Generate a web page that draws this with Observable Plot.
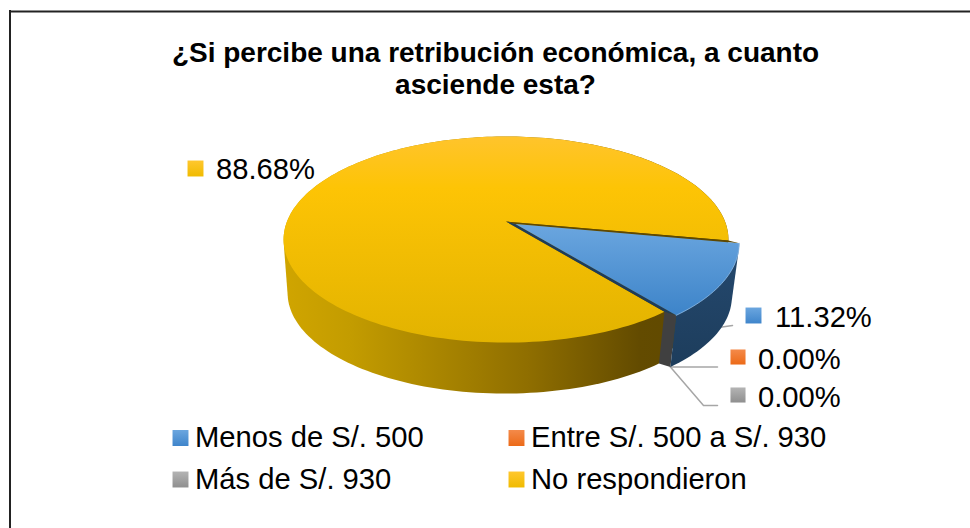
<!DOCTYPE html>
<html><head><meta charset="utf-8">
<script src="https://cdn.jsdelivr.net/npm/d3@7"></script>
<script src="https://cdn.jsdelivr.net/npm/@observablehq/plot@0.6"></script>
<style>html,body{margin:0;padding:0;background:#fff}svg{display:block}</style>
</head><body><div id="chart"></div>
<script>
const titleText = "¿Si percibe una retribución económica, a cuanto\nasciende esta?";
const categories = ["Menos de S/. 500", "Entre S/. 500 a S/. 930", "Más de S/. 930", "No respondieron"];
const shares = [11.32, 0, 0, 88.68];
const shareLabels = ["11.32%", "0.00%", "0.00%", "88.68%"];
const gradients = ["gBlue", "gOrange", "gGray", "gYellow"];

const W = 970, H = 528;
const startDeg = 100.6, explode = 0.05;
const cx = 505.5, cyTop = 221, rx = 219, ry = 99.9, k = 0.175;
const cxBot = 504, cyBot = 275, botScale = 0.975;
const rad = Math.PI / 180;

const arcs = d3.pie().sort(null).startAngle(startDeg * rad).endAngle((startDeg + 360) * rad)(shares);

function project(a, r, off, bottom) {
  const u = r * Math.sin(a) + off[0], v = r * Math.cos(a) + off[1];
  const w = 1 + k * v, s = bottom ? botScale : 1;
  return {x: (bottom ? cxBot : cx) + s * rx * u / w, y: (bottom ? cyBot : cyTop) - s * ry * v / w};
}
function arcPts(a0, a1, off, bottom) {
  const n = Math.max(2, Math.ceil(Math.abs(a1 - a0) / (rad * 1.5)));
  return d3.range(n + 1).map(i => project(a0 + (a1 - a0) * i / n, 1, off, bottom));
}
const blue = arcs[0], yellow = arcs[3];
const mid = (blue.startAngle + blue.endAngle) / 2;
const offBlue = [explode * Math.sin(mid), explode * Math.cos(mid)], off0 = [0, 0];

const face = (d, off) => [project(0, 0, off, false), ...arcPts(d.startAngle, d.endAngle, off, false)];
const hull = pts => d3.polygonHull(pts.map(p => [p.x, p.y])).map(([x, y]) => ({x, y}));
const wall = (d, off) => hull([...arcPts(d.startAngle, d.endAngle, off, false), ...arcPts(d.startAngle, d.endAngle, off, true)]);

const yellowTop = face(yellow, off0), blueTop = face(blue, offBlue);
const yellowWall = wall(yellow, off0), blueWall = wall(blue, offBlue);
const yS = yellow.startAngle, bS = blue.startAngle, bE = blue.endAngle;

const gapUpper = [project(0,0,off0,false), project(bS,1,off0,false), project(bS,1,offBlue,false), project(0,0,offBlue,false)];
const gapLower = [project(0,0,off0,false), project(bE,1,off0,false), project(bE,1,offBlue,false), project(0,0,offBlue,false)];
const greyCut = [project(bE,1,off0,false), project(bE,1,offBlue,false), project(bE,1,offBlue,true), project(bE,1,off0,true)];

const shadowY = arcPts(yellow.startAngle, yellow.endAngle, off0, true).map(p => ({x: p.x - 1, y: p.y + 2}));
const shadowB = arcPts(blue.startAngle, blue.endAngle, offBlue, true).map(p => ({x: p.x + 2, y: p.y + 2}));

const pieAnchor = project(bE, 1, offBlue, true);
const leaders = [
  [{x: 718, y: 327}, {x: 732, y: 325}],
  [pieAnchor, {x: 717, y: 366.5}],
  [pieAnchor, {x: 703, y: 405}, {x: 717, y: 405}]
];

const labelSpots = [
  {t: shareLabels[0], g: gradients[0], sx: 753, tx: 774.5, sy: 315, y: 317, r: 9},
  {t: shareLabels[1], g: gradients[1], sx: 737.5, tx: 757.5, sy: 356.5, y: 359, r: 8.5},
  {t: shareLabels[2], g: gradients[2], sx: 737.5, tx: 757.5, sy: 394.5, y: 397, r: 8.5},
  {t: shareLabels[3], g: gradients[3], sx: 195, tx: 215.5, sy: 168, y: 169.5, r: 9}
];
const legendSpots = [
  {t: categories[0], g: gradients[0], sx: 180, tx: 194.5, sy: 437.5, y: 437},
  {t: categories[1], g: gradients[1], sx: 516, tx: 530.5, sy: 437.5, y: 437},
  {t: categories[2], g: gradients[2], sx: 180, tx: 194.5, sy: 479, y: 479},
  {t: categories[3], g: gradients[3], sx: 516, tx: 530.5, sy: 479, y: 479}
];
const font = {fontFamily: "Liberation Sans, Arial, sans-serif", fill: "#000"};
const poly = (pts, fill) => Plot.line(pts, {x: "x", y: "y", fill, stroke: "none", curve: "linear-closed"});
const grad = (id, x2, y2, stops) =>
  `<linearGradient id="${id}" x1="0" y1="0" x2="${x2}" y2="${y2}">` +
  stops.map(([o, c]) => `<stop offset="${o}" stop-color="${c}"/>`).join("") + `</linearGradient>`;

const defs = () => {
  const g = document.createElementNS("http://www.w3.org/2000/svg", "g");
  g.innerHTML = `<defs>
    ${grad("gBlue", 0, 1, [[0, "#6ba6df"], [1, "#3f85cb"]])}
    ${grad("gOrange", 0, 1, [[0, "#f48a4a"], [1, "#ec6a18"]])}
    ${grad("gGray", 0, 1, [[0, "#b4b4b4"], [1, "#8f8f8f"]])}
    ${grad("gYellow", 0, 1, [[0, "#ffc72e"], [1, "#f0bb00"]])}
    ${grad("gTopY", 0, 1, [[0, "#ffc42c"], [0.25, "#fdc405"], [1, "#e2b300"]])}
    ${grad("gTopB", 0, 1, [[0, "#6ba6df"], [1, "#3d84c9"]])}
    ${grad("gWallY", 1, 0, [[0, "#d0a500"], [0.15, "#c39c00"], [0.55, "#8f6e00"], [0.8, "#634b00"], [1, "#5e4800"]])}
    ${grad("gWallB", 0, 1, [[0, "#25496f"], [1, "#1d3d5c"]])}
    <filter id="blur" x="-10%" y="-10%" width="120%" height="120%"><feGaussianBlur stdDeviation="1.8"/></filter>
  </defs>`;
  return g;
};

const plot = Plot.plot({
  width: W, height: H, margin: 0,
  x: {domain: [0, W], range: [0, W], axis: null},
  y: {domain: [0, H], range: [0, H], axis: null},
  marks: [
    defs,
    Plot.ruleY([11], {x1: 9, x2: W, stroke: "#222", strokeWidth: 2}),
    Plot.ruleX([9.5], {y1: 10, y2: H, stroke: "#222", strokeWidth: 2}),
    Plot.line(leaders[0], {x: "x", y: "y", stroke: "#a6a6a6", strokeWidth: 1.5}),
    Plot.line(leaders[1], {x: "x", y: "y", stroke: "#a6a6a6", strokeWidth: 1.5}),
    Plot.line(leaders[2], {x: "x", y: "y", stroke: "#a6a6a6", strokeWidth: 1.5}),
    Plot.line(shadowY, {x: "x", y: "y", stroke: "#222", strokeWidth: 5, ariaLabel: "sombra"}),
    Plot.line(shadowB, {x: "x", y: "y", stroke: "#222", strokeWidth: 5, ariaLabel: "sombra"}),
    poly(yellowWall, "url(#gWallY)"),
    poly(greyCut, "#404040"),
    poly(blueWall, "url(#gWallB)"),
    poly(yellowTop, "url(#gTopY)"),
    poly(gapUpper, "#5e4800"),
    poly(gapLower, "#1d3c5a"),
    poly(blueTop, "url(#gTopB)"),
    Plot.line(arcPts(bS, bE, offBlue, false), {x: "x", y: "y", stroke: "#8fbce8", strokeWidth: 0.8}),
    Plot.text([titleText], {x: () => 495, y: () => 67, text: d => d, fontFamily: font.fontFamily, fill: "#000", fontWeight: "bold", fontSize: 28, lineHeight: 1.143, textAnchor: "middle"}),
    Plot.dot(labelSpots.filter(d => d.r === 9), {x: "sx", y: "sy", symbol: "square", r: 9, fill: d => `url(#${d.g})`, stroke: "none"}),
    Plot.dot(labelSpots.filter(d => d.r !== 9), {x: "sx", y: "sy", symbol: "square", r: 8.5, fill: d => `url(#${d.g})`, stroke: "none"}),
    Plot.dot(legendSpots, {x: "sx", y: "sy", symbol: "square", r: 9, fill: d => `url(#${d.g})`, stroke: "none"}),
    Plot.text(labelSpots, {x: "tx", y: "y", text: "t", textAnchor: "start", fontSize: 29.2, ...font}),
    Plot.text(legendSpots, {x: "tx", y: "y", text: "t", textAnchor: "start", fontSize: 29.2, ...font})
  ]
});
plot.querySelectorAll('g[aria-label="sombra"]').forEach(g => g.setAttribute("filter", "url(#blur)"));
document.getElementById("chart").append(plot);
</script></body></html>
